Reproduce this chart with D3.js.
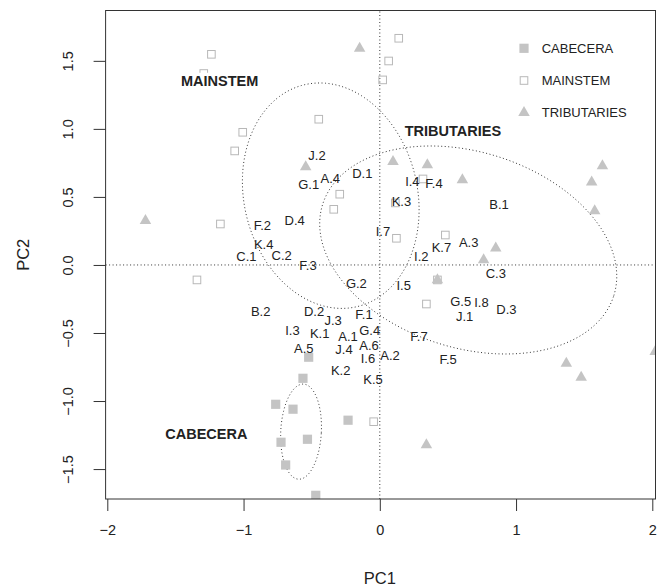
<!DOCTYPE html>
<html>
<head>
<meta charset="utf-8">
<script src="https://cdn.jsdelivr.net/npm/d3@7"></script>
<style>
  body { margin: 0; background: #fff; }
  svg { display: block; font-family: "Liberation Sans", Arial, Helvetica, sans-serif; }
</style>
</head>
<body>
<svg id="chart" width="665" height="587"></svg>
<script>
// ---- axis setup ----
const xDomain = [-2.0125, 2.0235];
const yDomain = [-1.72, 1.87];
const xTicks = [-2, -1, 0, 1, 2];
const xTickLabels = ["\u22122", "\u22121", "0", "1", "2"];
const yTicks = [-1.5, -1, -0.5, 0, 0.5, 1, 1.5];
const yTickLabels = ["\u22121.5", "\u22121.0", "\u22120.5", "0.0", "0.5", "1.0", "1.5"];
const xTitle = "PC1";
const yTitle = "PC2";

// ---- groups (legend order) ----
const groups = ["CABECERA", "MAINSTEM", "TRIBUTARIES"];

// ---- PCA scores per group: [PC1, PC2] ----
const cabecera = [
  [-0.522, -0.678], [-0.564, -0.833], [-0.764, -1.024], [-0.637, -1.060],
  [-0.233, -1.141], [-0.531, -1.281], [-0.725, -1.303], [-0.691, -1.470],
  [-0.470, -1.693]
];
const mainstem = [
  [-1.236, 1.548], [-1.292, 1.407], [-0.448, 1.071], [-1.006, 0.975],
  [-1.065, 0.838], [-0.294, 0.520], [-0.338, 0.409], [0.114, 0.456],
  [-1.170, 0.301], [0.122, 0.196], [0.139, 1.666], [0.065, 1.499],
  [0.021, 1.360], [0.317, 0.632], [0.481, 0.220], [0.342, -0.287],
  [-1.342, -0.110], [-0.045, -1.152], [0.423, -0.110]
];
const tributaries = [
  [-0.148, 1.591], [-0.544, 0.720], [0.097, 0.759], [-1.720, 0.326],
  [0.349, 0.735], [0.606, 0.625], [1.634, 0.728], [1.555, 0.608],
  [1.577, 0.397], [0.851, 0.123], [0.762, 0.037], [0.423, -0.110],
  [1.369, -0.724], [1.478, -0.827], [2.021, -0.637], [0.342, -1.323]
];

// ---- site labels: [name, PC1, PC2] ----
const siteLabels = [
  ["J.2", -0.461, 0.808], ["G.1", -0.522, 0.593], ["A.4", -0.363, 0.637],
  ["D.1", -0.128, 0.669], ["F.2", -0.862, 0.289], ["D.4", -0.625, 0.326],
  ["K.4", -0.852, 0.152], ["C.1", -0.979, 0.061], ["C.2", -0.720, 0.071],
  ["F.3", -0.527, 0.000], ["I.7", 0.023, 0.243], ["I.4", 0.239, 0.617],
  ["F.4", 0.398, 0.600], ["K.3", 0.159, 0.470], ["B.1", 0.875, 0.448],
  ["K.7", 0.452, 0.130], ["A.3", 0.652, 0.164], ["I.2", 0.305, 0.061],
  ["C.3", 0.851, -0.066], ["I.5", 0.175, -0.147], ["G.5", 0.594, -0.270],
  ["I.8", 0.746, -0.277], ["D.3", 0.929, -0.326], ["J.1", 0.623, -0.380],
  ["F.7", 0.288, -0.522], ["A.2", 0.075, -0.667], ["F.5", 0.501, -0.691],
  ["G.2", -0.172, -0.134], ["B.2", -0.874, -0.343], ["D.2", -0.483, -0.343],
  ["J.3", -0.343, -0.409], ["F.1", -0.116, -0.367], ["I.3", -0.641, -0.478],
  ["K.1", -0.441, -0.507], ["A.1", -0.233, -0.522], ["G.4", -0.074, -0.483],
  ["A.5", -0.558, -0.612], ["J.4", -0.263, -0.620], ["A.6", -0.079, -0.595],
  ["I.6", -0.087, -0.689], ["K.2", -0.287, -0.772], ["K.5", -0.050, -0.845]
];

// ---- group names placed in the plane ----
const groupLabels = [
  ["MAINSTEM", -1.175, 1.354],
  ["TRIBUTARIES", 0.537, 0.987],
  ["CABECERA", -1.273, -1.242]
];

// ---- group ellipses: centre, semi-axes, rotation (degrees, counter-clockwise) ----
const ellipseCenters = [[-0.578, -1.225], [-0.360, 0.509], [0.649, 0.110]];
const ellipseRadii = [[0.149, 0.350], [0.636, 0.838], [1.120, 0.720]];
const ellipseAngles = [-3, 13.4, -17.4];

// ================= drawing =================
const svg = d3.select("#chart");
const x = d3.scaleLinear().domain(xDomain).range([105.6, 655.5]);
const y = d3.scaleLinear().domain(yDomain).range([499, 10.5]);
const ink = "#222";
const grey = "#c4c4c4";

svg.append("defs").append("clipPath").attr("id", "plotClip")
  .append("rect")
  .attr("x", x(xDomain[0])).attr("y", y(yDomain[1]))
  .attr("width", x(xDomain[1]) - x(xDomain[0]))
  .attr("height", y(yDomain[0]) - y(yDomain[1]));

const plot = svg.append("g").attr("clip-path", "url(#plotClip)");

// reference lines through the origin
plot.append("line")
  .attr("x1", x(xDomain[0])).attr("x2", x(xDomain[1]))
  .attr("y1", y(0)).attr("y2", y(0))
  .attr("stroke", "#333").attr("stroke-dasharray", "1 2.5");
plot.append("line")
  .attr("x1", x(0)).attr("x2", x(0))
  .attr("y1", y(yDomain[0])).attr("y2", y(yDomain[1]))
  .attr("stroke", "#333").attr("stroke-dasharray", "1 2.5");

// ellipses
const line = d3.line().x(d => x(d[0])).y(d => y(d[1]));
ellipseCenters.forEach((c, i) => {
  const [rx, ry] = ellipseRadii[i];
  const a = ellipseAngles[i] * Math.PI / 180;
  const pts = d3.range(0, 361, 2).map(deg => {
    const t = deg * Math.PI / 180;
    const ex = rx * Math.cos(t), ey = ry * Math.sin(t);
    return [c[0] + ex * Math.cos(a) - ey * Math.sin(a),
            c[1] + ex * Math.sin(a) + ey * Math.cos(a)];
  });
  plot.append("path").attr("d", line(pts))
    .attr("fill", "none").attr("stroke", "#333")
    .attr("stroke-dasharray", "1 2.5");
});

// symbol helpers
const triPath = (L) => {
  const h = L * Math.sqrt(3) / 2;
  return `M0,${-2 * h / 3}L${L / 2},${h / 3}L${-L / 2},${h / 3}Z`;
};

// mainstem: hollow squares
plot.selectAll("rect.main").data(mainstem).join("rect")
  .attr("class", "main")
  .attr("x", d => x(d[0]) - 3.8).attr("y", d => y(d[1]) - 3.8)
  .attr("width", 7.6).attr("height", 7.6)
  .attr("fill", "none").attr("stroke", "#b8b8b8").attr("stroke-width", 1);

// tributaries: filled triangles
plot.selectAll("path.trib").data(tributaries).join("path")
  .attr("class", "trib")
  .attr("transform", d => `translate(${x(d[0])},${y(d[1])})`)
  .attr("d", triPath(11.5))
  .attr("fill", grey);

// cabecera: filled squares
plot.selectAll("rect.cab").data(cabecera).join("rect")
  .attr("class", "cab")
  .attr("x", d => x(d[0]) - 4.6).attr("y", d => y(d[1]) - 4.6)
  .attr("width", 9.2).attr("height", 9.2)
  .attr("fill", grey);

// site labels
svg.append("g").selectAll("text").data(siteLabels).join("text")
  .attr("x", d => x(d[1])).attr("y", d => y(d[2]))
  .attr("dy", "0.35em").attr("text-anchor", "middle")
  .attr("font-size", 13).attr("fill", ink)
  .text(d => d[0]);

// group names with a white backing
const gl = svg.append("g").selectAll("g").data(groupLabels).join("g");
gl.append("rect").attr("fill", "#fff");
gl.append("text")
  .attr("x", d => x(d[1])).attr("y", d => y(d[2]))
  .attr("dy", "0.35em").attr("text-anchor", "middle")
  .attr("font-size", 14.5).attr("font-weight", "bold").attr("fill", ink)
  .text(d => d[0]);
gl.each(function () {
  const g = d3.select(this);
  const b = g.select("text").node().getBBox();
  g.select("rect").attr("x", b.x).attr("y", b.y).attr("width", b.width).attr("height", b.height);
});

// plot frame
svg.append("rect")
  .attr("x", x(xDomain[0])).attr("y", y(yDomain[1]))
  .attr("width", x(xDomain[1]) - x(xDomain[0]))
  .attr("height", y(yDomain[0]) - y(yDomain[1]))
  .attr("fill", "none").attr("stroke", "#333").attr("stroke-width", 1);

// x axis
const xAxis = svg.append("g").attr("transform", `translate(0,${y(yDomain[0])})`)
  .call(d3.axisBottom(x).tickValues(xTicks).tickSize(12).tickSizeOuter(0)
    .tickPadding(14).tickFormat((d, i) => xTickLabels[i]));
xAxis.select(".domain").remove();
xAxis.selectAll(".tick line").attr("stroke", "#333");
xAxis.selectAll(".tick text").attr("font-size", 14.5).attr("fill", ink)
  .attr("font-family", null);

// y axis
const yAxis = svg.append("g").attr("transform", `translate(${x(xDomain[0])},0)`)
  .call(d3.axisLeft(y).tickValues(yTicks).tickSize(12).tickSizeOuter(0)
    .tickFormat((d, i) => yTickLabels[i]));
yAxis.select(".domain").remove();
yAxis.selectAll(".tick line").attr("stroke", "#333");
yAxis.selectAll(".tick text")
  .attr("x", null).attr("dy", "0.35em").attr("text-anchor", "middle")
  .attr("transform", `translate(${68 - x(xDomain[0])},0) rotate(-90)`)
  .attr("font-size", 14.5).attr("fill", ink).attr("font-family", null);
svg.selectAll(".tick text").attr("font-family", "Liberation Sans, Arial, sans-serif");

// axis titles
svg.append("text").attr("x", x(0)).attr("y", 578).attr("dy", "0.35em")
  .attr("text-anchor", "middle").attr("font-size", 16.5).attr("fill", ink).text(xTitle);
svg.append("text").attr("transform", `translate(23,${(y(yDomain[0]) + y(yDomain[1])) / 2}) rotate(-90)`)
  .attr("dy", "0.35em").attr("text-anchor", "middle")
  .attr("font-size", 16.5).attr("fill", ink).text(yTitle);

// legend
const legend = svg.append("g").attr("transform", "translate(524,48.3)");
const legendRows = legend.selectAll("g").data(groups).join("g")
  .attr("transform", (d, i) => `translate(0,${i * 32.2})`);
legendRows.each(function (d, i) {
  const g = d3.select(this);
  if (i === 0) {
    g.append("rect").attr("x", -4.6).attr("y", -4.6).attr("width", 9.2).attr("height", 9.2).attr("fill", grey);
  } else if (i === 1) {
    g.append("rect").attr("x", -3.8).attr("y", -3.8).attr("width", 7.6).attr("height", 7.6)
      .attr("fill", "none").attr("stroke", "#b8b8b8");
  } else {
    g.append("path").attr("d", triPath(11.5)).attr("fill", grey);
  }
  g.append("text").attr("x", 17.7).attr("dy", "0.35em")
    .attr("font-size", 13).attr("fill", ink).text(d);
});
</script>
</body>
</html>
